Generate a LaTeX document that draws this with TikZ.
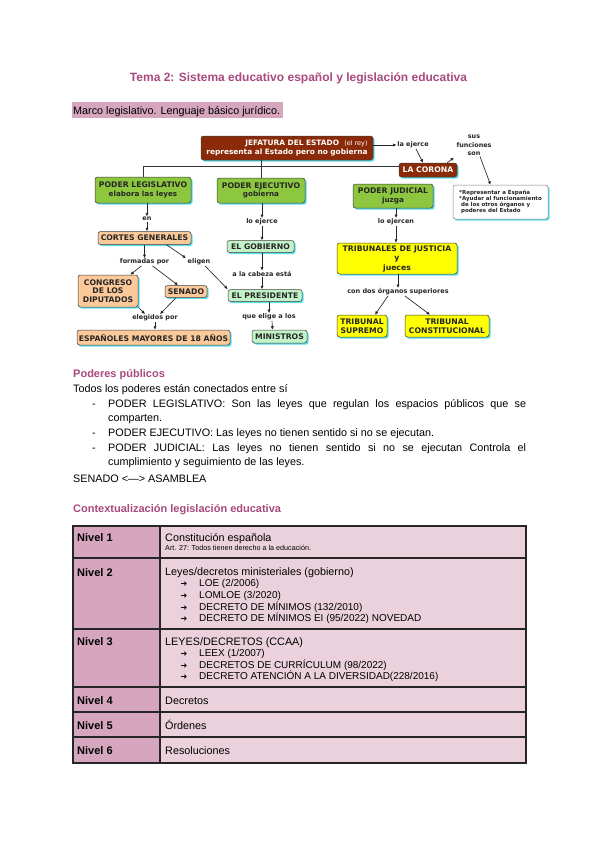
\documentclass[tikz,border=0pt]{standalone}
\usepackage{fontspec}
\setmainfont{Liberation Sans}
\newfontfamily\mapfont{DejaVu Sans}
\newfontfamily\symfont{DejaVu Sans}
\usetikzlibrary{shadows,arrows.meta}
\definecolor{pinkt}{HTML}{A8497F}
\definecolor{hlc}{HTML}{D5A6BD}
\definecolor{lcol}{HTML}{D5A6BD}
\definecolor{rcol}{HTML}{EAD1DC}
\definecolor{brownc}{HTML}{8B2A08}
\definecolor{greenc}{HTML}{8DC63F}
\definecolor{peachc}{HTML}{FBC99A}
\definecolor{mintc}{HTML}{C4F2C8}
\definecolor{yellc}{HTML}{FFFF00}
\definecolor{shad}{HTML}{5BE0EE}
\tikzset{
 body/.style={font=\fontsize{10.8}{13}\selectfont, inner sep=0pt, anchor=base west},
 head/.style={font=\bfseries\fontsize{11}{13}\selectfont, text=pinkt, inner sep=0pt, anchor=base west},
 tlab/.style={font=\bfseries\fontsize{11}{13}\selectfont, inner sep=0pt, anchor=base west},
 tsub/.style={font=\fontsize{10}{12}\selectfont, inner sep=0pt, anchor=base west},
 tsym/.style={font=\symfont\fontsize{8}{10}\selectfont, inner sep=0pt, anchor=base},
 mbox/.style={draw=black!75, line width=0.5pt, rounded corners=2.5pt, inner sep=1pt, align=center, text=black!85,
   font=\mapfont\bfseries\fontsize{7.7}{8.8}\selectfont,
   drop shadow={fill=shad, opacity=1, shadow xshift=1.6pt, shadow yshift=-1.6pt}},
 brownbox/.style={fill=brownc, text=white},
 greenbox/.style={fill=greenc},
 peachbox/.style={fill=peachc},
 mintbox/.style={fill=mintc},
 yellbox/.style={fill=yellc},
 lbl/.style={font=\mapfont\bfseries\fontsize{6.5}{7.8}\selectfont, inner sep=0.5pt, text=black!85},
 arr/.style={-{Latex[length=3.5pt,width=3.2pt]}, line width=0.65pt, black!85},
 conn/.style={line width=0.65pt, black!80},
 tline/.style={line width=1.1pt, black!85},
}
\begin{document}
\begin{tikzpicture}[x=1pt,y=-1pt]
\useasboundingbox (0,0) rectangle (600,848);
\fill[white] (0,0) rectangle (600,848);

% title
\node[font=\bfseries\fontsize{12}{14}\selectfont, text=pinkt, anchor=base, inner sep=0pt] (title) at (298.5,82) {Tema 2: Sistema educativo español y legislación educativa};
\fill[hlc] (72,102) rectangle (283,118);
\node[body] (marco) at (73,114) {Marco legislativo. Lenguaje básico jurídico.};

% concept map
\node[mbox, brownbox, minimum width=172pt, minimum height=24pt, align=right, font=\mapfont\bfseries\fontsize{7.4}{8.6}\selectfont] (jef) at (287,148)
  {JEFATURA DEL ESTADO~ {\mdseries\fontsize{6.5}{8}\selectfont(el rey)}\\representa al Estado pero no gobierna};
\node[lbl] (ejerce) at (413,145) {la ejerce};
\node[mbox, brownbox, minimum width=58pt, minimum height=14pt] (corona) at (428,170) {LA CORONA};
\node[lbl, align=center, font=\mapfont\bfseries\fontsize{6.4}{8.5}\selectfont] (sus) at (474,145.5) {sus\\funciones\\son};
\node[mbox, fill=white, draw=black!50, minimum width=95pt, minimum height=34pt, align=left,
  font=\mapfont\bfseries\fontsize{5.5}{6.2}\selectfont] (func) at (500.5,202)
  {*Representar a España\\*Ayudar al funcionamiento\\\ de los otros órganos y\\\ poderes del Estado};

\node[mbox, greenbox, minimum width=96pt, minimum height=26pt] (leg) at (143,190) {PODER LEGISLATIVO\\{\fontsize{7.2}{8.8}\selectfont elabora las leyes}};
\node[mbox, greenbox, minimum width=88pt, minimum height=25pt] (ejec) at (261,190.5) {PODER EJECUTIVO\\{\fontsize{7.2}{8.8}\selectfont gobierna}};
\node[mbox, greenbox, minimum width=80pt, minimum height=24pt] (jud) at (393,196) {PODER JUDICIAL\\{\fontsize{7.2}{8.8}\selectfont juzga}};

\coordinate (bus) at (143,166);
\draw[conn] (leg.north) -- (bus) -- (corona.west |- bus);
\draw[conn] (ejec.north) -- (ejec.north |- jef.south);
\draw[arr] (jef.east |- ejerce) -- (ejerce.west);
\draw[arr] ([xshift=3pt]ejerce.south) -- ([xshift=-5pt]corona.north);
\draw[arr] ([xshift=-10pt]corona.north east) -- ([xshift=-20pt,yshift=-1pt]sus.south);
\draw[arr] ([xshift=6pt]sus.south) -- ([xshift=-10pt]func.north);

% legislativo branch
\node[lbl] (en) at (147,219) {en};
\node[mbox, peachbox, minimum width=93pt, minimum height=13pt] (cortes) at (144.5,238) {CORTES GENERALES};
\draw[arr] (leg.south -| en) -- (en.north);
\draw[arr] (en.south) -- (cortes.north -| en);
\node[lbl] (fp) at (144.5,262) {formadas por};
\node[lbl] (el) at (199,262) {eligen};
\draw[arr] (cortes.south) -- (fp.north);
\draw[arr] ([xshift=22pt]cortes.south) -- ([xshift=-1pt]el.north west);
\node[mbox, peachbox, minimum width=60pt, minimum height=32pt] (cong) at (108,291) {CONGRESO\\DE LOS\\DIPUTADOS};
\node[mbox, peachbox, minimum width=42pt, minimum height=12pt] (sen) at (186,291.5) {SENADO};
\draw[arr] ([xshift=-3pt]fp.south) -- ([xshift=-8pt]cong.north east);
\draw[arr] ([xshift=8pt]fp.south) -- ([xshift=-8pt]sen.north);
\node[lbl] (eleg) at (155,318) {elegidos por};
\draw[arr] (cong.south east) -- ([xshift=-10pt]eleg.north);
\draw[arr] ([xshift=-10pt]sen.south) -- ([xshift=5pt]eleg.north);
\node[mbox, peachbox, minimum width=153pt, minimum height=15pt] (esp) at (153.5,337.5) {ESPAÑOLES MAYORES DE 18 AÑOS};
\draw[arr] (eleg.south) -- (esp.north -| eleg);

% ejecutivo branch
\node[lbl] (loej) at (262,222) {lo ejerce};
\node[mbox, mintbox, minimum width=67pt, minimum height=12pt] (gob) at (260.5,246.5) {EL GOBIERNO};
\draw[arr] (ejec.south -| loej) -- (loej.north);
\draw[arr] (loej.south) -- (gob.north -| loej);
\node[lbl] (cabeza) at (262,274) {a la cabeza está};
\node[mbox, mintbox, minimum width=74pt, minimum height=12pt] (pres) at (265,295.5) {EL PRESIDENTE};
\draw[arr] (gob.south -| cabeza) -- (cabeza.north);
\draw[arr] (cabeza.south) -- (pres.north -| cabeza);
\draw[arr] ([xshift=6pt]el.south) -- (pres.north west);
\node[lbl] (qe) at (269,317) {que elige a los};
\node[mbox, mintbox, minimum width=55pt, minimum height=13pt] (min) at (279.5,336.5) {MINISTROS};
\draw[arr] (pres.south -| qe) -- (qe.north);
\draw[arr] ([xshift=3pt]qe.south) -- ([xshift=-7pt]min.north);

% judicial branch
\node[lbl] (lojn) at (396,222) {lo ejercen};
\node[mbox, yellbox, minimum width=120pt, minimum height=31pt, font=\mapfont\bfseries\fontsize{7.7}{9.5}\selectfont] (trib) at (397,258.5) {TRIBUNALES DE JUSTICIA\\y\\jueces};
\draw[arr] (jud.south -| lojn) -- (lojn.north);
\draw[arr] (lojn.south) -- (trib.north -| lojn);
\node[lbl] (condos) at (398,292) {con dos órganos superiores};
\draw[arr] (trib.south -| condos) -- (condos.north);
\node[mbox, yellbox, minimum width=50pt, minimum height=22pt] (sup) at (362,326) {TRIBUNAL\\SUPREMO};
\node[mbox, yellbox, minimum width=84pt, minimum height=22pt] (const) at (447,326) {TRIBUNAL\\CONSTITUCIONAL};
\draw[arr] ([xshift=-10pt]condos.south) -- ([xshift=13pt]sup.north);
\draw[arr] ([xshift=7pt]condos.south) -- ([xshift=-17pt]const.north);

% poderes públicos
\node[head] (pp) at (73,377) {Poderes públicos};
\node[body] (todos) at (73,392.5) {Todos los poderes están conectados entre sí};
\node[body] (d1) at (92,407) {-};
\node[body] (b1) at (108,407) {\makebox[418pt][s]{PODER LEGISLATIVO: Son las leyes que regulan los espacios públicos que se}};
\node[body] (b1b) at (108,421.5) {comparten.};
\node[body] (d2) at (92,436) {-};
\node[body] (b2) at (108,436) {PODER EJECUTIVO: Las leyes no tienen sentido si no se ejecutan.};
\node[body] (d3) at (92,451) {-};
\node[body] (b3) at (108,451) {\makebox[418pt][s]{PODER JUDICIAL: Las leyes no tienen sentido si no se ejecutan Controla el}};
\node[body] (b3b) at (108,465.5) {cumplimiento y seguimiento de las leyes.};
\node[body] (sen2) at (73,482) {SENADO <—> ASAMBLEA};

% table
\node[head] (ctx) at (73,512) {Contextualización legislación educativa};
\fill[lcol] (73,526) rectangle (160,763);
\fill[rcol] (160,526) rectangle (526,763);
\draw[tline] (73,526) rectangle (526,763);
\draw[tline] (160,526) -- (160,763);
\foreach \yy in {558,629,687,712,737} \draw[tline] (73,\yy) -- (526,\yy);

\node[tlab] (n1) at (77,541) {Nivel 1};
\node[body] (r1) at (165,541) {Constitución española};
\node[body, font=\fontsize{7.2}{8}\selectfont] (r1b) at (165,550.5) {Art. 27: Todos tienen derecho a la educación.};

\node[tlab] (n2) at (77,576) {Nivel 2};
\node[body] (r2) at (165,575.5) {Leyes/decretos ministeriales (gobierno)};
\node[tsym] (a21) at (184,586.6) {➔};
\node[tsub] (s21) at (199,586.6) {LOE (2/2006)};
\node[tsym] (a22) at (184,598.3) {➔};
\node[tsub] (s22) at (199,598.3) {LOMLOE (3/2020)};
\node[tsym] (a23) at (184,610) {➔};
\node[tsub] (s23) at (199,610) {DECRETO DE MÍNIMOS (132/2010)};
\node[tsym] (a24) at (184,621.6) {➔};
\node[tsub] (s24) at (199,621.6) {DECRETO DE MÍNIMOS EI (95/2022) NOVEDAD};

\node[tlab] (n3) at (77,645) {Nivel 3};
\node[body] (r3) at (165,645) {LEYES/DECRETOS (CCAA)};
\node[tsym] (a31) at (184,656.3) {➔};
\node[tsub] (s31) at (199,656.3) {LEEX (1/2007)};
\node[tsym] (a32) at (184,668) {➔};
\node[tsub] (s32) at (199,668) {DECRETOS DE CURRÍCULUM (98/2022)};
\node[tsym] (a33) at (184,679.6) {➔};
\node[tsub] (s33) at (199,679.6) {DECRETO ATENCIÓN A LA DIVERSIDAD(228/2016)};

\node[tlab] (n4) at (77,704) {Nivel 4};
\node[body] (r4) at (165,704) {Decretos};
\node[tlab] (n5) at (77,729) {Nivel 5};
\node[body] (r5) at (165,729) {Órdenes};
\node[tlab] (n6) at (77,754) {Nivel 6};
\node[body] (r6) at (165,754) {Resoluciones};
\end{tikzpicture}
\end{document}
